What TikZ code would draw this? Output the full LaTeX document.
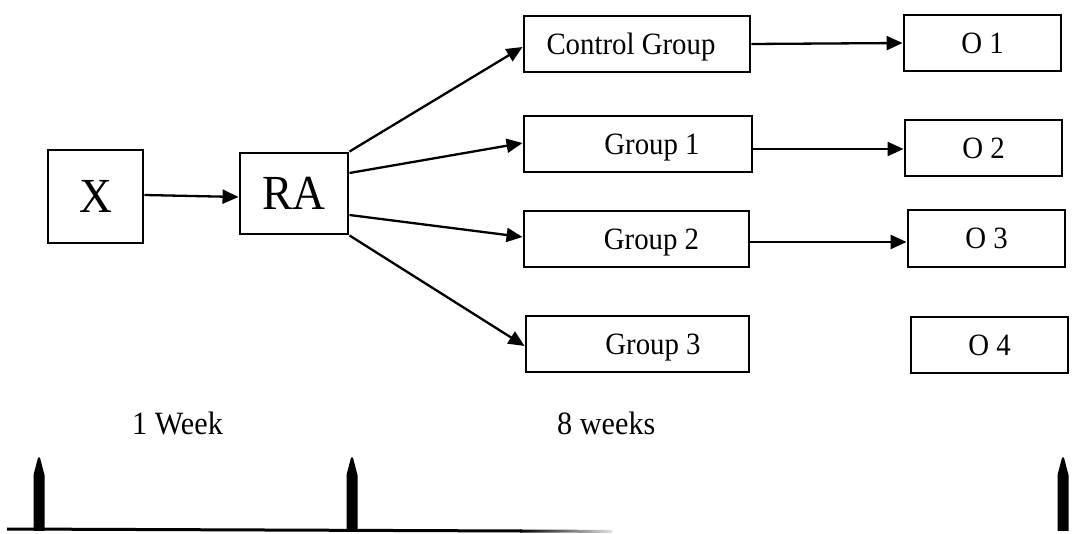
\documentclass[tikz,border=0pt]{standalone}
\usepackage{fontspec}
\setmainfont{Liberation Serif}[FakeStretch=0.93]
\usetikzlibrary{arrows.meta}
\begin{document}
\begin{tikzpicture}[x=1pt,y=-1pt,
  box/.style={draw, line width=2.9pt, inner sep=0pt, minimum height=56pt,
    text height=21pt, text depth=0pt, font=\fontsize{31}{37}\selectfont},
  bigbox/.style={draw, line width=2.9pt, inner sep=0pt,
    text height=33pt, text depth=0pt, font=\fontsize{49}{58}\selectfont},
  conn/.style={line width=2.3pt, -{Triangle[length=16pt,width=14pt]}},
  lbl/.style={inner sep=0pt, anchor=base west, font=\fontsize{32.5}{39}\selectfont},
  pencil/.style={fill=black}]
\useasboundingbox (0,0) rectangle (1088,534);

% left boxes
\node[bigbox, minimum width=95pt, minimum height=93pt] (x) at (95.5,196.5) {X};
\node[bigbox, minimum width=108pt, minimum height=81pt] (ra) at (294,193.5) {RA};

% group boxes
\node[box, minimum width=226pt] (cg) at (637,44) {Control Group\hspace*{12pt}};
\node[box, minimum width=228pt] (g1) at (638,144) {\hspace*{28pt}Group 1};
\node[box, minimum width=225pt] (g2) at (636.5,239) {\hspace*{30pt}Group 2};
\node[box, minimum width=223pt] (g3) at (637.5,344) {\hspace*{31pt}Group 3};

% outcome boxes
\node[box, minimum width=157pt] (o1) at (982.5,43) {O 1};
\node[box, minimum width=157pt] (o2) at (983.5,148) {O 2};
\node[box, minimum width=157pt, minimum height=57pt] (o3) at (986.5,238.5) {O 3};
\node[box, minimum width=157pt] (o4) at (989.5,345) {O 4};

% connectors
\draw[conn] ([yshift=1.5pt]x.east) -- ([yshift=-3.5pt]ra.west);
\draw[conn] (ra.north east) -- ([yshift=-3pt]cg.west);
\draw[conn] ([yshift=20.5pt]ra.east) -- ([yshift=1pt]g1.west);
\draw[conn] ([yshift=-21.5pt]ra.east) -- ([yshift=2pt]g2.west);
\draw[conn] (ra.south east) -- ([yshift=-2pt]g3.west);

\draw[conn] (cg.east) -- (o1.west);
\draw[conn] ([yshift=-5pt]g1.east) -- ([yshift=-1pt]o2.west);
\draw[conn] ([yshift=-3pt]g2.east) -- ([yshift=-3.5pt]o3.west);

% timeline labels
\node[lbl] (w1) at (132,435) {1 Week};
\node[lbl] (w8) at (557,435) {8 weeks};

% timeline
\draw[line width=3pt] (7,529) -- (522,531);
\shade[left color=black, right color=black!12] (520,529.5) -- (612,529.9) -- (612,532.9) -- (520,532.5) -- cycle;

\foreach \c in {39,352,1063}{
  \fill[pencil] (\c-5.5,531) -- (\c-5.5,475) -- (\c-1.2,458.5) -- (\c,457) -- (\c+1.2,458.5) -- (\c+5.5,475) -- (\c+5.5,531) -- cycle;
}
\end{tikzpicture}
\end{document}
